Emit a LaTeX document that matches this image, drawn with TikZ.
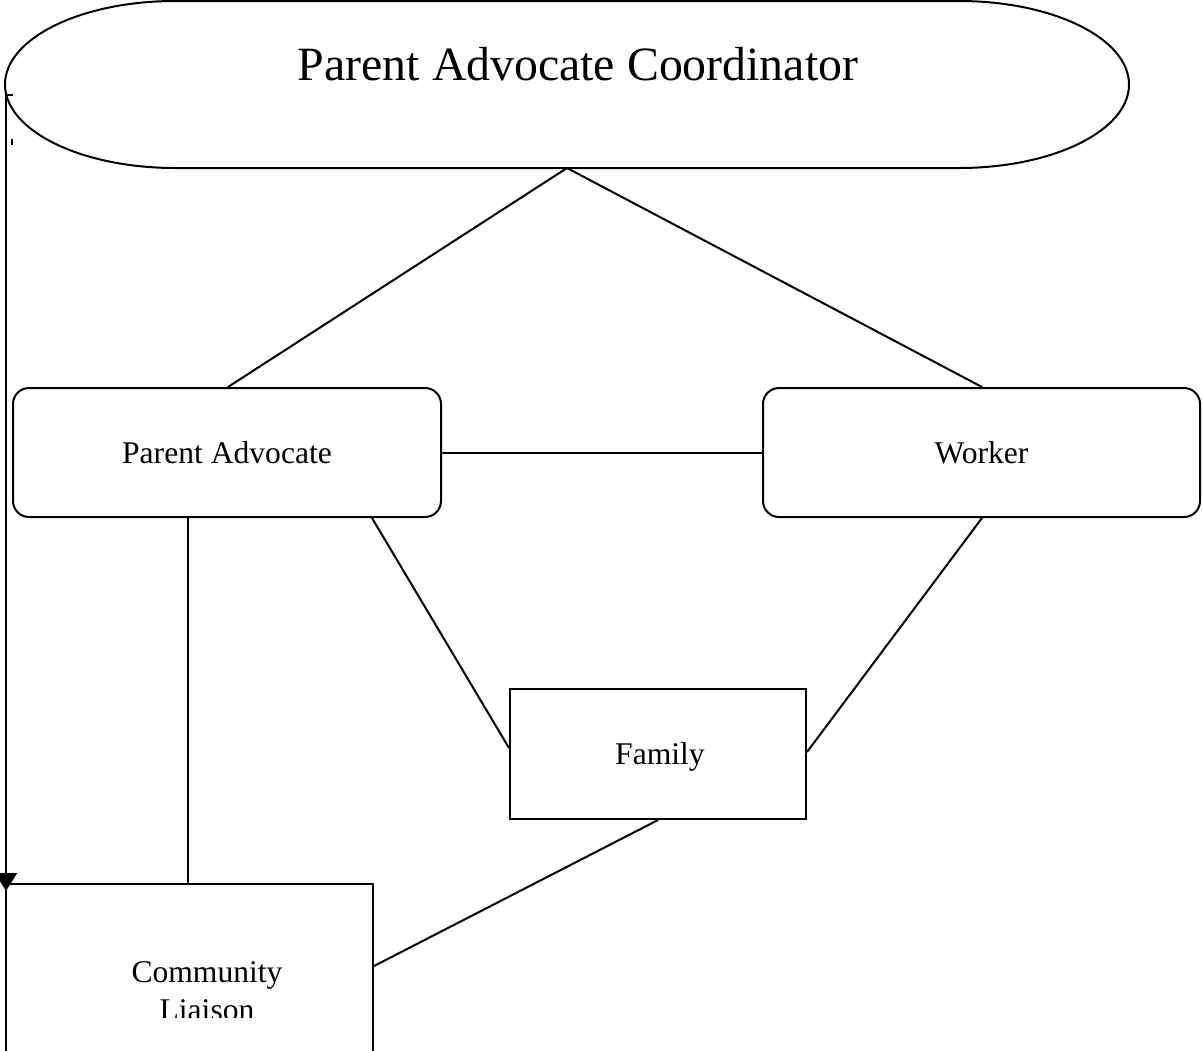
\documentclass[tikz,border=0pt]{standalone}
\usepackage{fontspec}
\setmainfont{Liberation Serif}
\usetikzlibrary{arrows.meta}
\begin{document}
\begin{tikzpicture}[x=0.5pt,y=-0.5pt,line width=1pt,
  rbox/.style={draw,rounded corners=8pt,minimum width=#1,minimum height=64.5pt,inner sep=0pt,font=\fontsize{15.8}{19}\selectfont},
  sbox/.style={draw,inner sep=0pt,font=\fontsize{15.8}{19}\selectfont},
  lbl/.style={inner sep=0pt,font=\fontsize{15.8}{19}\selectfont,align=center}]
\useasboundingbox (0,0) rectangle (1202,1050);
\clip (0,0) rectangle (1202,1050);
% terminator
\draw (175,1) -- (959,1) arc[start angle=90,end angle=-90,x radius=85pt,y radius=41.75pt]
  -- (175,168) arc[start angle=270,end angle=90,x radius=85pt,y radius=41.75pt] -- cycle;
\node[inner sep=0pt,font=\fontsize{23.9}{28}\selectfont] (pac) at (578,64) {Parent Advocate Coordinator};
\coordinate (pacb) at (567,168);
\coordinate (pacl) at (6,95);
\coordinate (pact) at (13,95);
% boxes
\node[rbox=214pt] (pa) at (227,452.5) {Parent Advocate};
\node[rbox=218.5pt] (wk) at (981.5,452.5) {Worker};
\node[sbox,minimum width=148pt,minimum height=65pt] (fam) at (658,754) {};
\node[inner sep=0pt,font=\fontsize{15.8}{19}\selectfont,anchor=base] (famtxt) at (660,764) {Family};
\node[sbox,minimum width=183.5pt,minimum height=100pt,anchor=north west] (cl) at (5,883) {};
\begin{scope}
\clip (0,0) rectangle (1202,1017);
\node[lbl,anchor=base] (cltxt) at (207,1020) {Community\\Liaison};
\end{scope}
% connectors
\draw (pacb) -- (pa.north -| 228,0);
\draw (pacb) -- (wk.north -| 982,0);
\draw (pa.east) -- (wk.west);
\draw (pa.south -| 372,0) -- (fam.west |- 0,748);
\draw (wk.south -| 982,0) -- (fam.east |- 0,752);
\draw (pa.south -| 188,0) -- (cl.north -| 188,0);
\draw (fam.south) -- (cl.east |- 0,966);
\draw (pact) -- (pacl) -- (cl.north west -| pacl);
\draw[-{Triangle[width=11,length=9]}] (6,870) -- ([yshift=-4pt]cl.north west -| pacl);
\draw (12,139) -- (12,145);
\end{tikzpicture}
\end{document}
